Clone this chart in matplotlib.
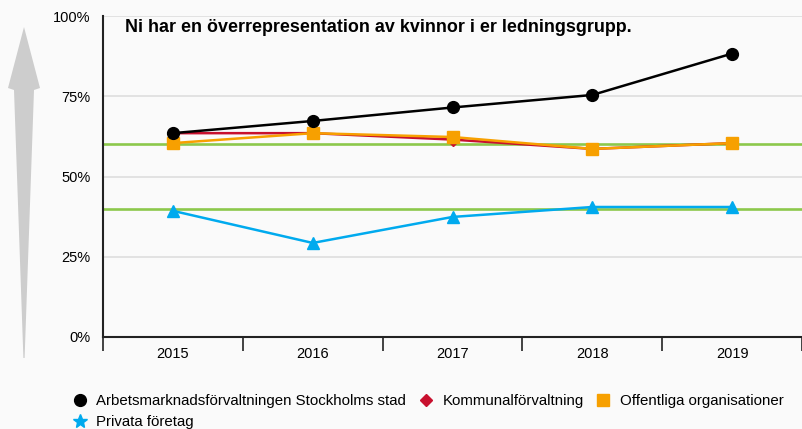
import matplotlib
matplotlib.use("Agg")
import matplotlib.pyplot as plt
from matplotlib.lines import Line2D
from matplotlib.patches import Polygon, Rectangle

plt.rcParams['font.family'] = ['Liberation Sans', 'DejaVu Sans']

# Data
years = ["2015", "2016", "2017", "2018", "2019"]
stockholm = [63.5, 67.3, 71.5, 75.4, 88.3]
kommunal = [63.5, 63.5, 61.5, 58.6, 60.4]
offentliga = [60.4, 63.5, 62.3, 58.6, 60.4]
privata = [39.3, 29.3, 37.4, 40.5, 40.5]
targets = [40, 60]
title = "Ni har en överrepresentation av kvinnor i er ledningsgrupp."

bg = '#fafafa'
fig = plt.figure(figsize=(8.02, 4.29), dpi=100, facecolor=bg)

# decorative arrow on the left, in pixel coordinates
deco = fig.add_axes([0, 0, 1, 1], zorder=0)
deco.set_xlim(0, 802)
deco.set_ylim(429, 0)
deco.axis('off')
deco.add_patch(Polygon([(24, 27), (40, 88), (34, 90), (24.6, 358), (23.4, 358),
                        (14, 90), (8, 88)], closed=True,
                       facecolor='#cdcdcd', edgecolor='none'))

ax = fig.add_axes([103/802, 1 - 337/429, 1 - 103/802, (337 - 16)/429], zorder=1)
ax.set_facecolor(bg)
x = list(range(len(years)))

for t in targets:
    ax.axhline(t, color='#8cc84b', lw=1.9, zorder=2)

ax.plot(x, stockholm, color='black', lw=1.8, marker='o', ms=8.5, zorder=5)
ax.plot(x, kommunal, color='#c8102e', lw=1.8, marker='D', ms=6.5, zorder=4)
ax.plot(x, offentliga, color='#f7a000', lw=1.8, marker='s', ms=8.5, zorder=4)
ax.plot(x, privata, color='#00aaee', lw=1.8, marker='^', ms=8.5, zorder=4)

ax.set_xlim(-0.5, 4.5)
ax.set_ylim(0, 100)
ax.set_yticks([0, 25, 50, 75, 100])
ax.set_yticklabels(['0%', '25%', '50%', '75%', '100%'])
ax.yaxis.grid(True, color='#dedede', lw=1.2, zorder=1)
ax.set_axisbelow(True)
ax.set_xticks(x)
ax.set_xticklabels(years)
ax.set_xticks([i - 0.5 for i in range(len(years) + 1)], minor=True)
ax.tick_params(axis='x', which='major', length=0, pad=7, labelsize=10.5)
ax.tick_params(axis='x', which='minor', length=10, width=1.2, color='#222222')
ax.tick_params(axis='y', length=0, pad=9, labelsize=10.5)
for s in ['top', 'right']:
    ax.spines[s].set_visible(False)
for s in ['left', 'bottom']:
    ax.spines[s].set_color('#222222')
    ax.spines[s].set_linewidth(1.5)

fig.text(125/802, 1 - 28/429, title, fontsize=12.9, fontweight='bold', va='center')

handles = [
    Line2D([], [], color='black', marker='o', ls='none', ms=8.5),
    Line2D([], [], color='#00aaee', marker='*', ls='none', ms=10),
    Line2D([], [], color='#c8102e', marker='D', ls='none', ms=6.5),
    Rectangle((0, 0), 0, 0, visible=False),
    Line2D([], [], color='#f7a000', marker='s', ls='none', ms=8.5),
]
labels = ["Arbetsmarknadsförvaltningen Stockholms stad", "Privata företag",
          "Kommunalförvaltning", "", "Offentliga organisationer"]
fig.legend(handles, labels, ncol=3, loc='upper left',
           bbox_to_anchor=(65/802, 1 - 387/429), frameon=False,
           fontsize=10.8, handlelength=1.0, handletextpad=0.6,
           columnspacing=0.8, labelspacing=0.45, borderpad=0)

fig.savefig('out.png', dpi=100, facecolor=bg)
